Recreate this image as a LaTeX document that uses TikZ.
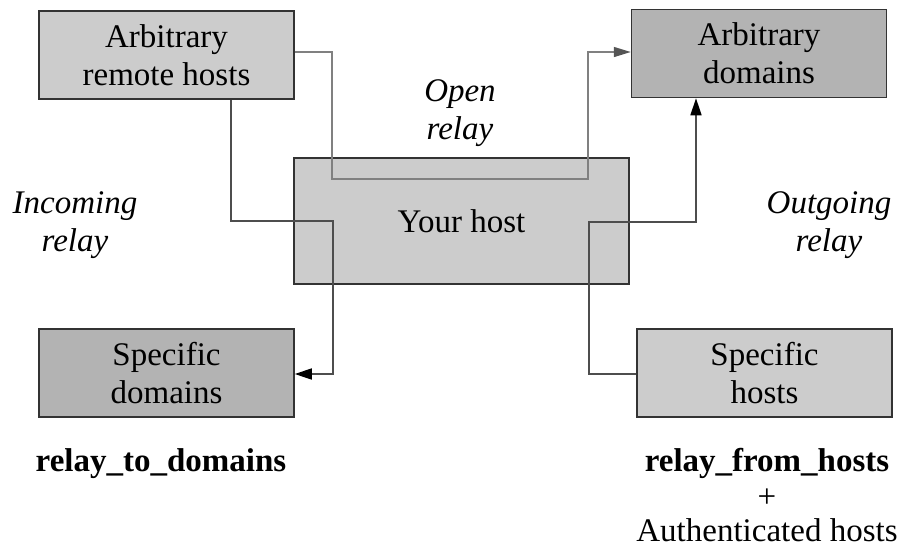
\documentclass[tikz,border=0pt]{standalone}
\usepackage{fontspec}
\setmainfont{Liberation Serif}
\usetikzlibrary{arrows.meta}
\definecolor{boxlight}{HTML}{CCCCCC}
\definecolor{boxdark}{HTML}{B3B3B3}
\definecolor{edgegray}{HTML}{333333}
\definecolor{opengray}{HTML}{808080}
\definecolor{linegray}{HTML}{4D4D4D}
\definecolor{opentip}{HTML}{555555}
\begin{document}
\begin{tikzpicture}[x=1pt,y=-1pt,
  every node/.style={font=\fontsize{33}{38}\selectfont, inner sep=0pt, align=center},
  hostbox/.style={draw=edgegray, line width=1.5pt, minimum width=255pt, minimum height=88pt},
  light/.style={hostbox, fill=boxlight},
  dark/.style={hostbox, fill=boxdark},
  relayline/.style={draw=linegray, line width=1.5pt},
  openline/.style={draw=opengray, line width=1.5pt},
  tipblack/.style={-{Triangle[length=17pt,width=11pt,color=black]}},
  tipgray/.style={-{Triangle[length=17pt,width=10pt,color=opentip]}},
  relaylabel/.style={font=\fontsize{33}{38}\selectfont\itshape},
]
\useasboundingbox (0,0) rectangle (905,550);

% boxes
\node[light, minimum width=335pt, minimum height=126pt] (yh) at (461.5,221) {Your host};
\node[light] (arh) at (166.5,55) {Arbitrary\\remote hosts};
\node[dark]  (ad)  at (759,53.5) {Arbitrary\\domains};
\node[dark]  (sd)  at (166.5,373) {Specific\\domains};
\node[light] (sh)  at (764.5,373) {Specific\\hosts};

% bend points
\coordinate (o1) at (332,52);
\coordinate (o2) at (332,179);
\coordinate (o3) at (588,179);
\coordinate (o4) at (588,52);
\coordinate (i1) at (231,221);
\coordinate (i2) at (333,221);
\coordinate (i3) at (333,374);
\coordinate (g1) at (589,374);
\coordinate (g2) at (589,222);
\coordinate (g3) at (696,222);

% connectors
\draw[openline, tipgray] (arh.east |- o1) -- (o1) -- (o2) -- (o3) -- (o4) -- (ad.west |- o4);
\draw[relayline, tipblack] (arh.south -| i1) -- (i1) -- (i2) -- (i3) -- (sd.east |- i3);
\draw[relayline, tipblack] (sh.west |- g1) -- (g1) -- (g2) -- (g3) -- (ad.south -| g3);

% labels
\node[relaylabel] (lopen) at (460,113) {Open\\relay};
\node[relaylabel] (lin) at (75,225) {Incoming\\relay};
\node[relaylabel] (lout) at (829,225) {Outgoing\\relay};
\node[anchor=base] (lto) at (161,471) {\textbf{relay\textunderscore to\textunderscore domains}};
\node[anchor=base] (lfrom) at (767,471) {\textbf{relay\textunderscore from\textunderscore hosts}};
\node[anchor=base] (lplus) at (767,507) {+};
\node[anchor=base] (lauth) at (767,541) {Authenticated hosts};
\end{tikzpicture}
\end{document}
